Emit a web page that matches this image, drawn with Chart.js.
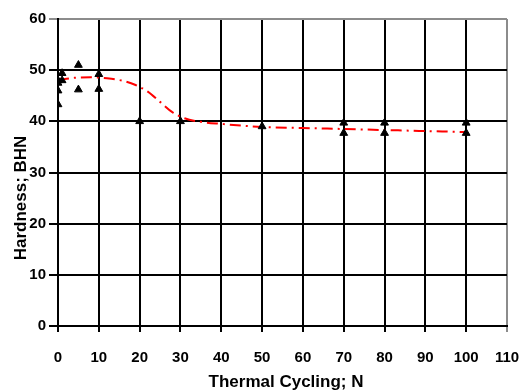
<!DOCTYPE html>
<html>
<head>
<meta charset="utf-8">
<script src="https://cdn.jsdelivr.net/npm/chart.js@4"></script>
<style>
  html, body { margin: 0; padding: 0; background: #fff; }
  #wrap { width: 524px; height: 392px; }
</style>
</head>
<body>
<div id="wrap"><canvas id="chart" width="524" height="392"></canvas></div>
<script>
// measured hardness (triangles)
const cycles = [0, 0, 0, 0, 1, 1, 5, 5, 10, 10, 20, 30, 50, 70, 70, 80, 80, 100, 100];
const hardness = [43.3, 46, 47.5, 48, 49.4, 48, 51, 46.2, 49.2, 46.3, 40, 40, 39, 39.7, 37.7, 39.7, 37.7, 39.7, 37.7];

// fitted trend (red dash-dot)
const trendX = [0, 4, 8, 12, 16, 19, 22, 25, 28, 31, 35, 40, 50, 60, 70, 80, 90, 100];
const trendY = [48.1, 48.5, 48.6, 48.4, 47.9, 47.1, 45.8, 43.8, 41.8, 40.6, 39.9, 39.5, 38.9, 38.7, 38.5, 38.3, 38.1, 37.9];

const xTicks = [0, 10, 20, 30, 40, 50, 60, 70, 80, 90, 100, 110];
const yTicks = [0, 10, 20, 30, 40, 50, 60];

const xTitle = 'Thermal Cycling; N';
const yTitle = 'Hardness; BHN';

const family = "'Liberation Sans', Arial, sans-serif";
const font = { family: family, size: 15, weight: 'bold' };

// axis titles drawn by hand so they sit where the original has them
const titles = {
  id: 'titles',
  afterDraw(c) {
    const ctx = c.ctx;
    ctx.save();
    ctx.fillStyle = '#000';
    ctx.font = 'bold 17px ' + family;
    ctx.textAlign = 'center';
    ctx.textBaseline = 'middle';
    ctx.fillText(xTitle, 286, 382);
    ctx.translate(21, 198);
    ctx.rotate(-Math.PI / 2);
    ctx.fillText(yTitle, 0, 0);
    ctx.restore();
  }
};

const context = document.getElementById("chart").getContext("2d");
const chart = new Chart(context, {
  type: 'scatter',
  data: {
    datasets: [
      {
        label: 'trend',
        type: 'line',
        data: trendX.map((x, i) => ({ x: x, y: trendY[i] })),
        borderColor: '#ff0000',
        borderWidth: 2,
        borderDash: [11, 5, 2, 5],
        pointRadius: 0,
        cubicInterpolationMode: 'monotone',
        fill: false,
        order: 2
      },
      {
        label: 'hardness',
        data: cycles.map((x, i) => ({ x: x, y: hardness[i] })),
        pointStyle: 'triangle',
        pointRadius: 4.5,
        backgroundColor: '#000',
        borderColor: '#000',
        borderWidth: 1,
        order: 1
      }
    ]
  },
  options: {
    responsive: false,
    animation: false,
    layout: { padding: { left: 0, right: 17, top: 19, bottom: 0 } },
    plugins: { legend: { display: false }, tooltip: { enabled: false } },
    scales: {
      x: {
        type: 'linear',
        min: 0,
        max: 110,
        afterBuildTicks: s => { s.ticks = xTicks.map(v => ({ value: v })); },
        afterFit: s => { s.height = 66; s.paddingRight = 0; s.paddingLeft = 0; },
        ticks: { color: '#000', font: font, padding: 17, maxRotation: 0 },
        grid: {
          color: c => c.tick && c.tick.value === 110 ? '#8c8c8c' : '#000',
          lineWidth: 2,
          tickLength: 6
        },
        border: { color: '#000', width: 2 }
      },
      y: {
        min: 0,
        max: 60,
        afterBuildTicks: s => { s.ticks = yTicks.map(v => ({ value: v })); },
        afterFit: s => { s.width = 58; },
        ticks: { color: '#000', font: font, padding: 3 },
        grid: {
          color: c => c.tick && c.tick.value === 60 ? '#8c8c8c' : '#000',
          lineWidth: 2,
          tickLength: 9
        },
        border: { color: '#000', width: 2 }
      }
    }
  },
  plugins: [titles]
});
</script>
</body>
</html>
